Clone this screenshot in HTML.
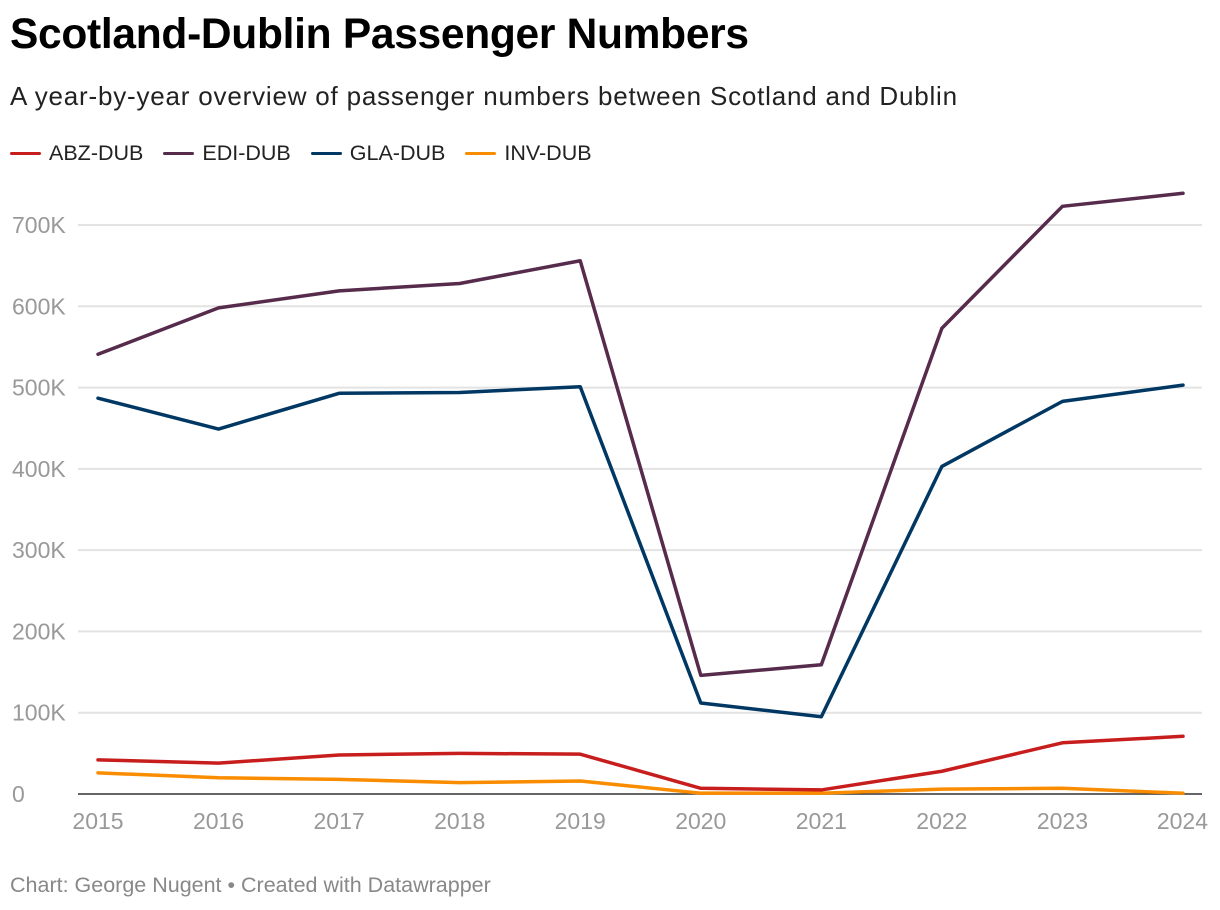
<!DOCTYPE html>
<html><head><meta charset="utf-8"><style>
body{margin:0;background:#fff;font-family:"Liberation Sans",Roboto,sans-serif;}
#wrap{position:relative;width:1220px;height:910px;overflow:hidden}
h1{position:absolute;left:10px;top:11px;margin:0;font-size:42.5px;font-weight:bold;color:#000;letter-spacing:-0.3px}
.sub{position:absolute;left:10px;top:81px;font-size:26px;letter-spacing:0.8px;color:#222;white-space:nowrap}
.legend{position:absolute;left:10px;top:141px;font-size:21.5px;color:#222;display:flex}
.li{display:flex;align-items:center;margin-right:20px}
.sw{width:31px;height:3px;border-radius:2px;margin-right:8px}
.foot{position:absolute;left:10px;top:873px;font-size:21.5px;color:#888;white-space:nowrap}
svg{position:absolute;left:0;top:0}
</style></head><body>
<div id="wrap">
<h1>Scotland-Dublin Passenger Numbers</h1>
<div class="sub">A year-by-year overview of passenger numbers between Scotland and Dublin</div>
<div class="legend">
<div class="li"><span class="sw" style="background:#c71e1d"></span>ABZ-DUB</div>
<div class="li"><span class="sw" style="background:#562b4c"></span>EDI-DUB</div>
<div class="li"><span class="sw" style="background:#003863"></span>GLA-DUB</div>
<div class="li"><span class="sw" style="background:#fa8c00"></span>INV-DUB</div>
</div>
<svg id="svg" width="1220" height="910"></svg>
<div class="foot">Chart: George Nugent • Created with Datawrapper</div>
</div>
<script>
const years=[2015,2016,2017,2018,2019,2020,2021,2022,2023,2024];
const abz=[42,38,48,50,49,7,5,28,63,71];
const edi=[541,598,619,628,656,146,159,573,723,739];
const gla=[487,449,493,494,501,112,95,403,483,503];
const inv=[26,20,18,14,16,1,1,6,7,1];
const yTicks=[0,100,200,300,400,500,600,700];
const tickLabels=["0","100K","200K","300K","400K","500K","600K","700K"];
const NS="http://www.w3.org/2000/svg";
const svg=document.getElementById('svg');
const x=i=>98+i*(1183-98)/(years.length-1);
const y=v=>794-v*(794-225)/700;
function mk(t,a){const e=document.createElementNS(NS,t);for(const k in a)e.setAttribute(k,a[k]);svg.appendChild(e);return e;}
yTicks.forEach((t,i)=>{
  if(t>0){const l=mk('line',{x1:78,x2:1202,y1:y(t),y2:y(t),stroke:'#e3e3e3','stroke-width':2});
  
  }
  const tx=mk('text',{x:12,y:y(t)+8,'font-size':23,fill:'#999','font-family':'Liberation Sans, sans-serif'});
  tx.textContent=tickLabels[i];
  
  
});
const base=mk('line',{x1:78,x2:1202,y1:794,y2:794,stroke:'#333','stroke-width':1.5});


years.forEach((yr,i)=>{
  const tx=mk('text',{x:i==years.length-1?1208:x(i),y:829,'font-size':23,fill:'#999','text-anchor':i==years.length-1?'end':'middle','font-family':'Liberation Sans, sans-serif'});
  tx.textContent=yr;
  
  
});
[[inv,'#fa8c00','line-inv-dub'],[abz,'#c71e1d','line-abz-dub'],[gla,'#003863','line-gla-dub'],[edi,'#562b4c','line-edi-dub']].forEach(([d,c,n])=>{
  const p=mk('polyline',{points:d.map((v,i)=>x(i)+','+y(v)).join(' '),fill:'none',stroke:c,'stroke-width':3.5,'stroke-linejoin':'round','stroke-linecap':'round'});
  
  
});
</script>
</body></html>
